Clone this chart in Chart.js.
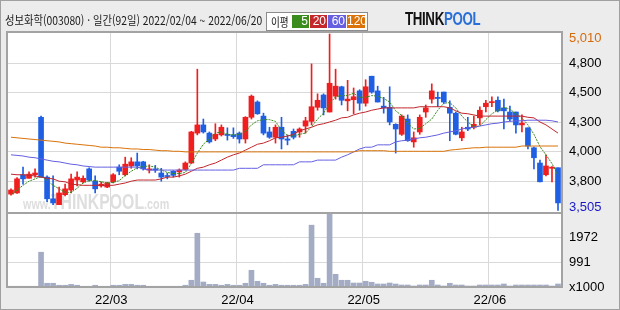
<!DOCTYPE html>
<html lang="ko">
<head>
<meta charset="UTF-8">
<script src="https://cdn.jsdelivr.net/npm/chart.js"></script>
<title>성보화학 일간</title>
<style>
  body { margin: 0; background: #ececec; }
  .wrap { position: relative; width: 620px; height: 310px; overflow: hidden; background: #ececec; }
  .border { position: absolute; left: 0; top: 0; width: 620px; height: 310px; box-sizing: border-box; border: 1px solid #a0a0a0; pointer-events: none; }
  canvas { position: absolute; left: 0; top: 0; }
  .title { position: absolute; left: 5px; top: 11px; font: 12px "Noto Sans CJK KR", sans-serif; color: #1a1a1a; white-space: nowrap; transform: scaleX(0.86); transform-origin: left top; }
  .legend { position: absolute; left: 266px; top: 12px; width: 100px; height: 17px; background: #fff; border: 1px solid #8c8c8c; }
  .legend .lbl { position: absolute; left: 4px; top: 0px; font: 12px "Noto Sans CJK KR", sans-serif; color: #111; transform: scaleX(0.8); transform-origin: left top; }
  .legend .box { position: absolute; top: 2px; height: 13px; color: #fff; font: 12px "Liberation Sans", sans-serif; line-height: 13px; text-align: right; padding-right: 1px; box-sizing: border-box; }
  .logo { position: absolute; left: 405px; top: 8px; font: bold 19px "Liberation Sans", sans-serif; transform: scaleX(0.7); transform-origin: left top; white-space: nowrap; letter-spacing: -0.5px; }
  .logo .a { color: #111; }
  .logo .b { color: #2a6fd8; }
</style>
</head>
<body>
<div class="wrap">
  <canvas id="chart" width="620" height="310"></canvas>
  <div class="title">성보화학(003080) · 일간(92일) 2022/02/04 ~ 2022/06/20</div>
  <div class="legend">
    <span class="lbl">이평</span>
    <span class="box" style="left:25px;width:17px;background:#3a8c1f">5</span>
    <span class="box" style="left:43px;width:17px;background:#c4272c">20</span>
    <span class="box" style="left:61px;width:18px;background:#6660e0">60</span>
    <span class="box" style="left:80px;width:18px;background:#d9730a">120</span>
  </div>
  <div class="logo"><span class="a">THINK</span><span class="b">POOL</span></div>
  <div class="border"></div>
</div>

<script>
// trading days 2022/02/04 ~ 2022/06/20
const dates = [
  '22/02/04','22/02/07','22/02/08','22/02/09','22/02/10','22/02/11','22/02/14','22/02/15','22/02/16','22/02/17',
  '22/02/18','22/02/21','22/02/22','22/02/23','22/02/24','22/02/25','22/02/28','22/03/02','22/03/03','22/03/04',
  '22/03/07','22/03/08','22/03/10','22/03/11','22/03/14','22/03/15','22/03/16','22/03/17','22/03/18','22/03/21',
  '22/03/22','22/03/23','22/03/24','22/03/25','22/03/28','22/03/29','22/03/30','22/03/31','22/04/01','22/04/04',
  '22/04/05','22/04/06','22/04/07','22/04/08','22/04/11','22/04/12','22/04/13','22/04/14','22/04/15','22/04/18',
  '22/04/19','22/04/20','22/04/21','22/04/22','22/04/25','22/04/26','22/04/27','22/04/28','22/04/29','22/05/02',
  '22/05/03','22/05/04','22/05/06','22/05/09','22/05/10','22/05/11','22/05/12','22/05/13','22/05/16','22/05/17',
  '22/05/18','22/05/19','22/05/20','22/05/23','22/05/24','22/05/25','22/05/26','22/05/27','22/05/30','22/05/31',
  '22/06/02','22/06/03','22/06/07','22/06/08','22/06/09','22/06/10','22/06/13','22/06/14','22/06/15','22/06/16',
  '22/06/17','22/06/20'
];

const opens = [
  3645,3655,3810,3780,3810,4300,3790,3605,3555,3640, 3680,3765,3750,3860,3755,3715,3705,3750,3875,3810,
  3885,3920,3920,3850,3860,3825,3800,3840,3835,3855, 3910,4165,4235,4165,4115,4150,4155,4150,4165,4115,
  4300,4430,4310,4175,4130,4215,4115,4180,4175,4225, 4265,4385,4490,4345,4480,4560,4440,4450,4525,4420,
  4650,4525,4395,4385,4240,4155,4285,4090,4175,4345, 4455,4470,4515,4385,4335,4125,4215,4215,4295,4390,
  4425,4445,4380,4345,4345,4235,4210,4040,3910,3810, 3865,3870
];
const highs = [
  3690,3785,3875,3835,3860,4310,3800,3800,3705,3730, 3815,3835,3800,3870,3800,3750,3745,3820,3895,3960,
  3955,3995,3925,3895,3890,3865,3825,3845,3860,3920, 4180,4710,4285,4175,4245,4235,4210,4210,4175,4305,
  4490,4440,4335,4215,4235,4300,4150,4200,4210,4300, 4755,4500,4500,5010,4710,4565,4615,4550,4535,4620,
  4650,4565,4470,4560,4245,4320,4320,4175,4320,4405, 4585,4515,4515,4440,4345,4215,4300,4310,4390,4445,
  4475,4475,4455,4395,4345,4320,4210,4045,3935,3980, 3880,3870
];
const lows = [
  3635,3650,3730,3780,3790,3790,3580,3555,3555,3630, 3655,3715,3740,3755,3655,3705,3700,3740,3810,3800,
  3865,3860,3850,3825,3830,3755,3775,3790,3790,3850, 3905,4150,4165,4080,4100,4140,4105,4120,4080,4080,
  4285,4325,4150,4120,4080,4030,4065,4115,4130,4165, 4235,4360,4320,4345,4455,4405,4355,4330,4360,4395,
  4505,4430,4335,4235,3995,4145,4095,4045,4155,4300, 4420,4390,4415,4100,4150,4100,4185,4200,4235,4345,
  4390,4345,4200,4270,4165,4175,4030,3860,3750,3800, 3750,3505
];
const closes = [
  3680,3775,3775,3815,3825,3790,3605,3570,3655,3690, 3775,3790,3780,3765,3690,3730,3740,3810,3840,3900,
  3920,3885,3860,3860,3850,3790,3795,3805,3850,3910, 4175,4235,4175,4090,4155,4215,4145,4135,4115,4300,
  4480,4330,4165,4130,4215,4115,4105,4130,4200,4270, 4390,4445,4380,4590,4565,4445,4455,4475,4420,4560,
  4515,4430,4380,4260,4200,4310,4100,4125,4300,4380, 4525,4460,4430,4335,4155,4175,4200,4240,4360,4420,
  4430,4355,4355,4285,4235,4250,4055,3955,3750,3885, 3875,3570
];
// volume in thousands of shares
const volumes = [
  30,30,30,30,30,1395,150,150,70,70, 105,70,30,30,70,30,30,70,70,105,
  105,70,70,30,30,30,30,30,30,70, 270,2155,200,105,105,70,105,70,70,150,
  670,230,150,70,105,70,70,70,70,105, 2480,350,150,2920,510,270,270,160,160,230,
  190,120,120,160,120,80,80,40,80,80, 270,80,40,150,80,80,40,40,80,80,
  80,80,120,40,80,80,80,80,80,80, 40,120
];

// moving averages
const ma5 = [
  3640,3680,3720,3755,3775,3795,3760,3720,3690,3660, 3660,3695,3740,3760,3760,3750,3740,3745,3760,3805,
  3840,3870,3880,3885,3875,3850,3830,3820,3820,3830, 3905,3995,4070,4115,4165,4175,4155,4150,4155,4180,
  4235,4270,4280,4280,4265,4190,4145,4140,4155,4165, 4220,4285,4335,4415,4475,4485,4485,4505,4470,4470,
  4485,4480,4460,4430,4355,4315,4250,4200,4205,4245, 4285,4360,4420,4425,4380,4310,4260,4220,4225,4280,
  4330,4360,4385,4370,4330,4295,4235,4155,4050,3980, 3905,3805
];
const ma20 = [
  3815,3810,3810,3805,3800,3790,3780,3775,3755,3750, 3730,3725,3720,3720,3720,3720,3720,3720,3730,3740,
  3755,3765,3765,3765,3765,3775,3790,3790,3800,3815, 3840,3865,3875,3895,3910,3935,3960,3980,3995,4020,
  4045,4070,4080,4100,4125,4130,4140,4155,4185,4200, 4215,4235,4245,4260,4275,4295,4300,4320,4335,4345,
  4360,4370,4380,4380,4380,4380,4380,4380,4390,4390, 4390,4390,4390,4380,4355,4335,4330,4320,4310,4310,
  4310,4310,4310,4310,4310,4310,4300,4295,4260,4235, 4200,4165
];
const ma60 = [
  3980,3975,3970,3960,3955,3945,3935,3925,3920,3910, 3900,3895,3885,3880,3875,3875,3875,3875,3875,3875,
  3875,3875,3860,3850,3850,3850,3850,3850,3850,3850, 3850,3850,3850,3850,3850,3850,3850,3850,3865,3865,
  3865,3865,3895,3895,3895,3895,3895,3895,3920,3920, 3920,3935,3935,3935,3935,3960,3980,4005,4030,4045,
  4045,4065,4065,4065,4090,4100,4105,4115,4125,4130, 4140,4150,4165,4175,4185,4200,4210,4215,4225,4235,
  4245,4250,4260,4265,4270,4270,4275,4275,4275,4275, 4270,4260
];
const ma120 = [
  4130,4125,4120,4115,4110,4105,4100,4095,4090,4080, 4075,4070,4065,4060,4055,4045,4045,4040,4040,4035,
  4030,4030,4025,4025,4020,4015,4015,4010,4010,4005, 4005,4005,4005,4005,4005,4005,4005,4005,4005,4005,
  4005,4005,4005,4005,4005,4005,4005,4005,4005,4005, 4005,4005,4005,4005,4005,4005,4005,4005,4015,4015,
  4015,4015,4015,4010,4010,4010,4010,4010,4010,4010, 4010,4010,4010,4020,4025,4030,4035,4040,4040,4045,
  4045,4045,4045,4045,4045,4055,4055,4055,4055,4055, 4055,4055
];

// axis ticks: the price grid splits low..high into six parts
const priceTicks = [3505, 3755.8, 4006.7, 4257.5, 4508.3, 4759.2, 5010];
const priceTickLabels = ['3,505', '3,800', '4,000', '4,300', '4,500', '4,800', '5,010'];
const volTicks = [0, 991, 1972];
const volTickLabels = ['x1000', '991', '1972'];

const UP = '#f01e1e';
const DOWN = '#1f5fe4';
const GRID = '#d9d9d9';
const axisFont = { family: 'Liberation Sans', size: 13 };

const candleColors = closes.map((c, i) => (c >= opens[i] ? UP : DOWN));
const monthStart = i => i > 0 && i < dates.length && dates[i].slice(0, 5) !== dates[i - 1].slice(0, 5);

const panelBg = {
  id: 'panelBg',
  beforeDraw(chart) {
    const { ctx, chartArea: a } = chart;
    ctx.save();
    ctx.fillStyle = '#fff';
    ctx.fillRect(a.left, a.top, a.right - a.left, a.bottom - a.top);
    ctx.restore();
  }
};

const watermark = {
  id: 'watermark',
  beforeDatasetsDraw(chart) {
    const { ctx } = chart;
    ctx.save();
    ctx.translate(23, 209);
    ctx.scale(0.72, 1);
    ctx.fillStyle = '#dedede';
    ctx.font = 'bold 15px "Liberation Sans"';
    let x = 0;
    ctx.fillText('www.', x, 0);
    x += ctx.measureText('www.').width;
    ctx.font = 'bold 22px "Liberation Sans"';
    ctx.fillText('THINKPOOL', x, 0);
    x += ctx.measureText('THINKPOOL').width;
    ctx.font = 'bold 15px "Liberation Sans"';
    ctx.fillText('.com', x, 0);
    ctx.restore();
  }
};

const frame = {
  id: 'frame',
  afterDraw(chart) {
    const { ctx, chartArea: a, scales } = chart;
    ctx.save();
    ctx.strokeStyle = '#a3a3a3';
    ctx.lineWidth = 2;
    ctx.strokeRect(a.left - 1, a.top, a.right - a.left + 2, a.bottom - a.top);
    ctx.beginPath();
    ctx.moveTo(a.left - 1, scales.y.bottom);
    ctx.lineTo(a.right + 1, scales.y.bottom);
    ctx.stroke();
    // high / low labels sit just inside the panel
    ctx.font = '13px "Liberation Sans"';
    ctx.textBaseline = 'middle';
    ctx.fillStyle = '#d46a0a';
    ctx.fillText(priceTickLabels[6], scales.y.left + 8, a.top + 6);
    ctx.fillStyle = '#1717c8';
    ctx.fillText(priceTickLabels[0], scales.y.left + 8, scales.y.bottom - 6);
    ctx.restore();
  }
};

const maLine = (data, color, dash) => ({
  type: 'line', data, borderColor: color, borderWidth: 1, borderDash: dash || [],
  pointRadius: 0, tension: 0, yAxisID: 'y', order: 0
});

new Chart(document.getElementById('chart'), {
  type: 'bar',
  data: {
    labels: dates,
    datasets: [
      maLine(ma120, '#d9730a'),
      maLine(ma60, '#6660e0'),
      maLine(ma20, '#c0282d'),
      maLine(ma5, '#3a8c1f', [2, 1]),
      {
        data: lows.map((l, i) => [l, highs[i]]), backgroundColor: candleColors,
        barThickness: 1, grouped: false, yAxisID: 'y', order: 2
      },
      {
        data: opens.map((o, i) => [o, closes[i]]), backgroundColor: candleColors,
        barThickness: 5, minBarLength: 1, grouped: false, yAxisID: 'y', order: 1
      },
      {
        data: volumes, backgroundColor: '#a3acc4',
        barThickness: 5, grouped: false, yAxisID: 'yv', order: 3
      }
    ]
  },
  options: {
    responsive: false,
    animation: false,
    devicePixelRatio: 1,
    layout: { padding: { top: 32, left: 8 } },
    plugins: { legend: { display: false }, tooltip: { enabled: false } },
    scales: {
      x: {
        offset: true,
        grid: { offset: true, drawTicks: false, color: c => (monthStart(c.index) ? GRID : 'transparent') },
        border: { display: false },
        ticks: {
          autoSkip: false, maxRotation: 0, padding: 6, labelOffset: -2,
          font: axisFont, color: '#000',
          callback: (v, i) => (monthStart(i) ? dates[i].slice(0, 5) : '')
        },
        afterFit: s => { s.height = 23; }
      },
      y: {
        position: 'right', stack: 'panels', stackWeight: 181,
        min: 3484, max: 5027,
        afterBuildTicks: s => { s.ticks = priceTicks.map(v => ({ value: v })); },
        grid: { drawTicks: false, color: c => (c.index === 0 || c.index === 6 ? 'transparent' : GRID) },
        border: { display: false },
        ticks: {
          autoSkip: false, padding: 8, font: axisFont, color: '#000',
          callback: (v, i) => (i === 0 || i === 6 ? '' : priceTickLabels[i])
        },
        afterFit: s => { s.width = 59; }
      },
      yv: {
        position: 'right', stack: 'panels', stackWeight: 74,
        min: 0, max: 2968,
        afterBuildTicks: s => { s.ticks = volTicks.map(v => ({ value: v })); },
        grid: { drawTicks: false, color: c => (c.index === 0 ? 'transparent' : GRID) },
        border: { display: false },
        ticks: {
          autoSkip: false, padding: 8, font: axisFont, color: '#000',
          callback: (v, i) => volTickLabels[i]
        },
        afterFit: s => { s.width = 59; }
      }
    }
  },
  plugins: [panelBg, watermark, frame]
});
</script>
</body>
</html>
